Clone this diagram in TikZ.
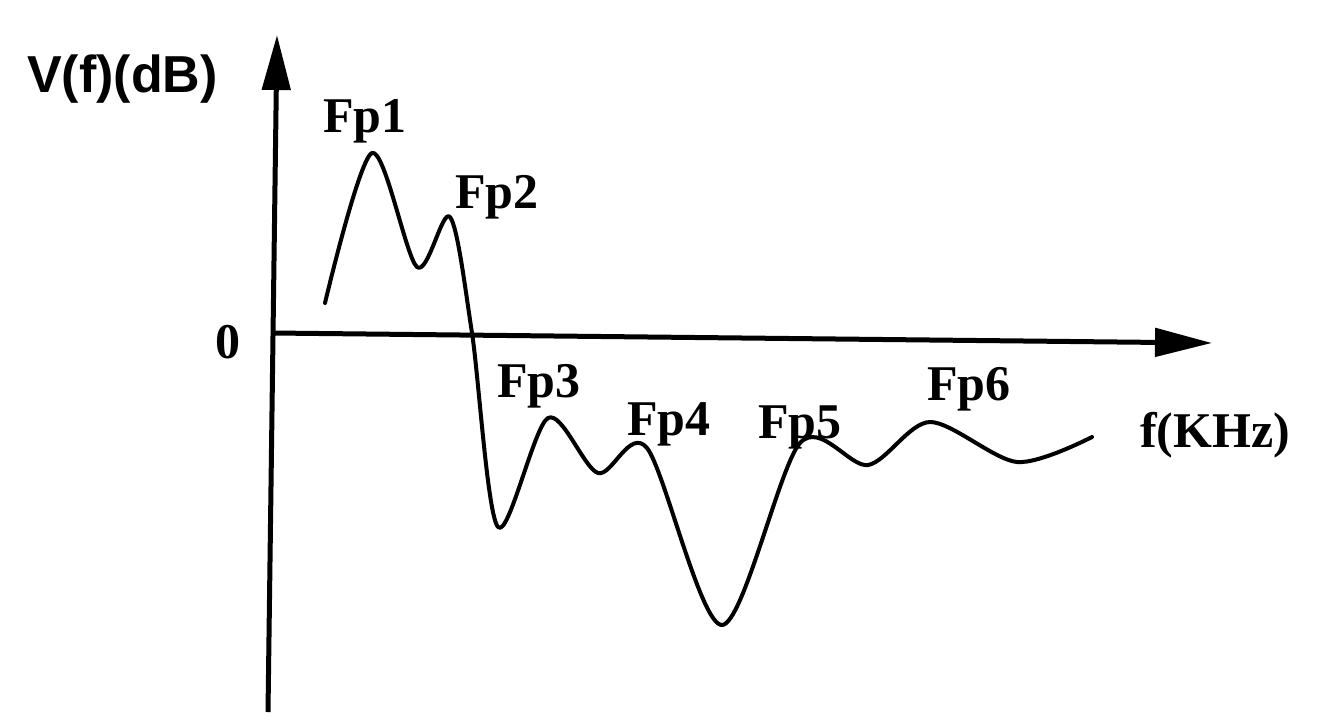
\documentclass[tikz,border=0pt]{standalone}
\usepackage{fontspec}
\setmainfont{Liberation Serif}
\setsansfont{Liberation Sans}
\usetikzlibrary{arrows.meta}
\begin{document}
\begin{tikzpicture}[x=1pt,y=-1pt,
  lbl/.style={inner sep=0pt, anchor=base west, font=\fontsize{50}{50}\selectfont\bfseries},
  axis/.style={line width=5pt},
  curve/.style={line width=4pt, line join=round, line cap=round}]
\useasboundingbox (0,0) rectangle (1336,724);
\fill[white] (0,0) rectangle (1336,724);
% axes
\coordinate (ybot) at (268,712);
\coordinate (ytop) at (277,35);
\coordinate (xorg) at (273,333);
\coordinate (xend) at (1212,343);
\draw[axis, -{Triangle[length=55pt,width=28pt]}] (ybot) -- (ytop);
\draw[axis, -{Triangle[length=57pt,width=28pt]}] (xorg) -- (xend);
% curve
\draw[curve] plot[smooth, tension=0.5] coordinates {
 (325,303) (372,153) (417,267) (450,217) (472,333) (498,527) (548,418)
 (598,473) (647,448) (722,625) (800,443) (868,465) (930,422) (1017,462) (1092,437)};
% labels
\node[lbl, font=\fontsize{52}{52}\selectfont\sffamily\bfseries] (vlab) at (27,92) {V(f)(dB)};
\node[lbl] (zero) at (215,358) {0};
\node[lbl] (fp1) at (323,132) {Fp1};
\node[lbl] (fp2) at (455,208) {Fp2};
\node[lbl] (fp3) at (497,397) {Fp3};
\node[lbl] (fp4) at (627,435) {Fp4};
\node[lbl] (fp5) at (758,438) {Fp5};
\node[lbl] (fp6) at (927,400) {Fp6};
\node[lbl] (flab) at (1140,447) {f(KHz)};
\end{tikzpicture}
\end{document}
